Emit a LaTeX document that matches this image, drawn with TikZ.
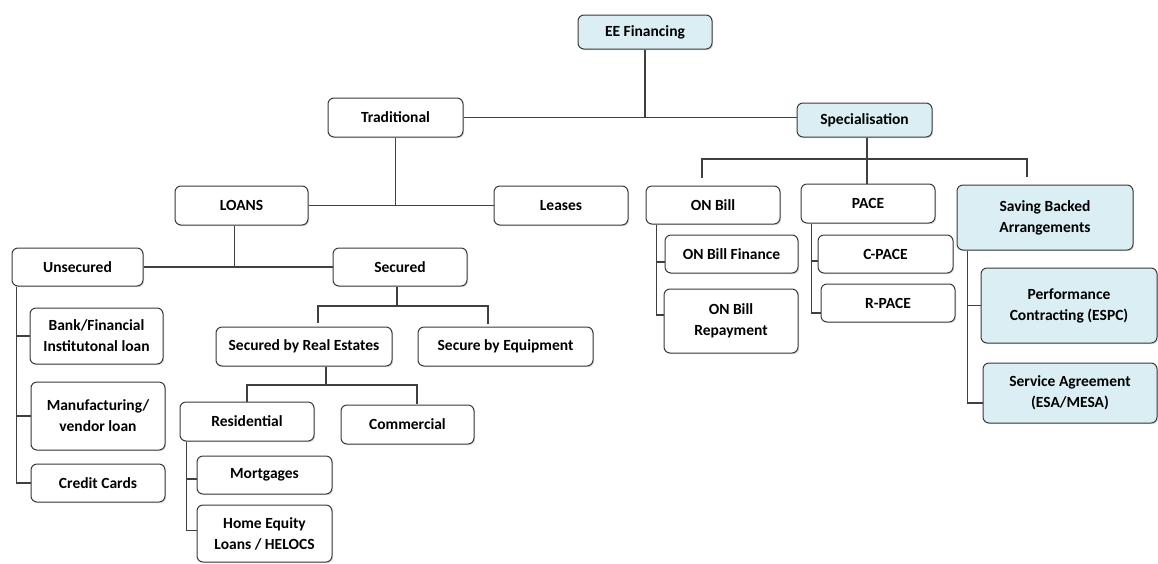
\documentclass[tikz,border=0pt]{standalone}
\usepackage{fontspec}
\setmainfont{Carlito}
\usetikzlibrary{shadows}
\definecolor{paleblue}{HTML}{DAEEF3}
\definecolor{boxline}{HTML}{3A3A3A}
\begin{document}
\begin{tikzpicture}[x=1pt, y=-1pt,
  box/.style={draw=boxline, line width=1pt, rounded corners=6pt, fill=white,
    align=center, inner sep=0pt, font=\bfseries\fontsize{15.5}{21}\selectfont,
    drop shadow={opacity=0.25, shadow xshift=1.2pt, shadow yshift=-1.2pt}},
  hi/.style={box, fill=paleblue},
  boxsize/.style 2 args={minimum width=#1pt, minimum height=#2pt},
  link/.style={draw=black!75, line width=1.1pt}]
\useasboundingbox (0,0) rectangle (1158,563);

% top levels
\node[hi, boxsize={134}{34}] (ee) at (645,32) {EE Financing};
\node[box, boxsize={135}{39}] (trad) at (395.5,117.5) {Traditional};
\node[hi, boxsize={135}{34}] (spec) at (864.5,120) {Specialisation};

\node[box, boxsize={133}{39}] (loans) at (241.5,205.5) {LOANS};
\node[box, boxsize={134}{39}] (leases) at (561,205.5) {Leases};

\node[box, boxsize={131}{38}] (unsec) at (77.5,267) {Unsecured};
\node[box, boxsize={134}{38}] (sec) at (400,267) {Secured};

\node[box, boxsize={133}{56}] (bank) at (96.5,336) {Bank/Financial\\Institutonal loan};
\node[box, boxsize={134}{68}] (manu) at (98,416) {Manufacturing/\\vendor loan};
\node[box, boxsize={134}{38}] (cc) at (98,483) {Credit Cards};

\node[box, boxsize={176}{39}] (sre) at (304,346.5) {Secured by Real Estates};
\node[box, boxsize={175}{39}] (seq) at (505.5,346.5) {Secure by Equipment};

\node[box, boxsize={134}{39}] (res) at (247,421.5) {Residential};
\node[box, boxsize={133}{39}] (com) at (407.5,424.5) {Commercial};
\node[box, boxsize={135}{38}] (mort) at (264.5,475) {Mortgages};
\node[box, boxsize={135}{57}] (hel) at (264.5,533.5) {Home Equity\\Loans / HELOCS};

% specialisation side
\node[box, boxsize={134}{38}] (onbill) at (713,205) {ON Bill};
\node[box, boxsize={134}{39}] (pace) at (868,203.5) {PACE};
\node[hi, boxsize={176}{65}] (sba) at (1045,217.5) {Saving Backed\\Arrangements};

\node[box, boxsize={133}{38}] (onbf) at (731.5,254) {ON Bill Finance};
\node[box, boxsize={134}{64}] (onbr) at (731,321) {ON Bill\\Repayment};
\node[box, boxsize={135}{38}] (cpace) at (885.5,254) {C-PACE};
\node[box, boxsize={134}{38}] (rpace) at (888,303) {R-PACE};
\node[hi, boxsize={176}{75}] (espc) at (1069,305.5) {Performance\\Contracting (ESPC)};
\node[hi, boxsize={174}{60}] (esa) at (1070,393) {Service Agreement\\(ESA/MESA)};

\coordinate (secbar) at (397,306);
\coordinate (secL) at (318,323);
\coordinate (secR) at (488,324);
\coordinate (srebar) at (326,385);
\coordinate (sreR) at (417,404);
\coordinate (specbar) at (867,159);
\coordinate (specL) at (702,178);
\coordinate (specR) at (1027,177);

\draw[link] (ee.south) -- (ee.south |- trad.east);
\draw[link] (trad.east) -- (trad.east -| spec.west);
\draw[link] (trad.south) -- (trad.south |- loans.east);
\draw[link] (loans.east) -- (leases.west);
\draw[link] ([xshift=-7pt]loans.south) -- ([xshift=-7pt]loans.south |- unsec.east);
\draw[link] (unsec.east) -- (sec.west);

\draw[link] ([xshift=5pt]unsec.south west) |- (cc.west);
\draw[link] ([xshift=5pt]unsec.south west) |- (bank.west);
\draw[link] ([xshift=5pt]unsec.south west) |- (manu.west);

\draw[link] (sec.south -| secbar) -- (secbar);
\draw[link] (secL) |- (secbar) -| (secR);
\draw[link] (sre.south -| srebar) -- (srebar);
\draw[link] (res.north) |- (srebar) -| (sreR);
\draw[link] ([xshift=7pt]res.south west) |- ([yshift=-4pt]mort.west);
\draw[link] ([xshift=7pt]res.south west) |- ([yshift=3pt]hel.west);

\draw[link] (spec.south -| specbar) -- (pace.north -| specbar);
\draw[link] (specL) |- (specbar) -| (specR);
\draw[link] ([xshift=11pt]onbill.south west) |- ([yshift=-8pt]onbf.west);
\draw[link] ([xshift=11pt]onbill.south west) |- ([yshift=6pt]onbr.west);
\draw[link] ([xshift=11pt]pace.south west) |- ([yshift=-7pt]cpace.west);
\draw[link] ([xshift=11pt]pace.south west) |- ([yshift=-10pt]rpace.west);
\draw[link] ([xshift=11pt]sba.south west) |- (espc.west);
\draw[link] ([xshift=11pt]sba.south west) |- ([yshift=-10pt]esa.west);
\end{tikzpicture}
\end{document}
